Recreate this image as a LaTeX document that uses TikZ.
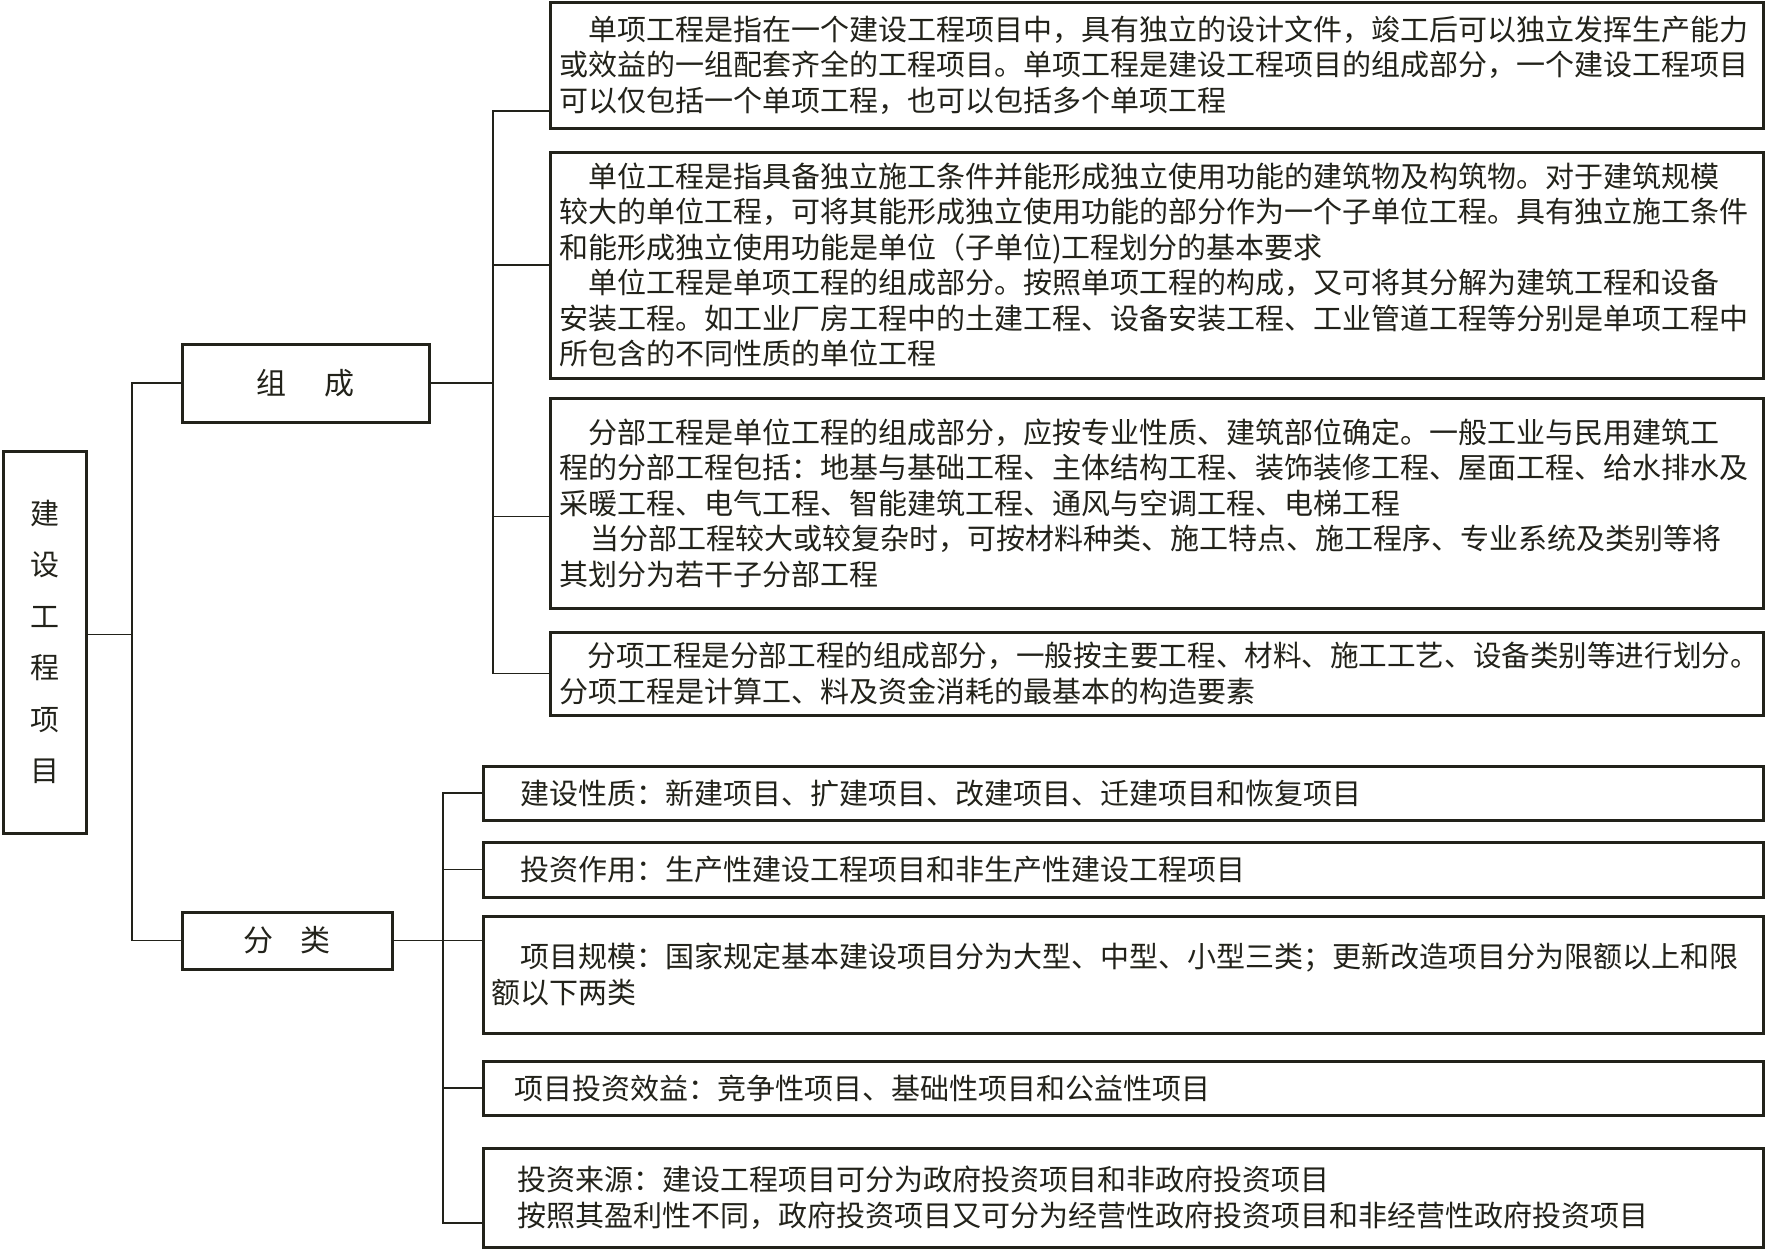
\documentclass[tikz,border=0pt]{standalone}
\usepackage{graphicx}
\usepackage{fontspec}
\setmainfont{Noto Sans CJK SC}
\usetikzlibrary{calc}
\definecolor{ink}{HTML}{22221A}
\begin{document}
\begin{tikzpicture}[x=1pt,y=-1pt,
  box/.style={draw=ink, line width=3pt, inner sep=0pt, text=ink},
  tbox/.style={box, align=left, font=\fontsize{29}{35.5}\selectfont},
  lbox/.style={tbox, minimum width=1213pt, text width=1195pt},
  rbox/.style={tbox, minimum width=1280pt, text width=1264pt},
  conn/.style={draw=ink, line width=1.3pt}]
\useasboundingbox (0,0) rectangle (1766,1250);
\fill[white] (0,0) rectangle (1766,1250);

% root and second level
\node[box, minimum width=83pt, minimum height=382pt, align=center,
      font=\fontsize{29}{51.5}\selectfont] (root) at (44.5,642) {建\\设\\工\\程\\项\\目};
\node[box, minimum width=247pt, minimum height=78pt,
      font=\fontsize{30}{36}\selectfont] (zc) at (305.5,383) {组\hspace{1.25em}成};
\node[box, minimum width=210pt, minimum height=57pt,
      font=\fontsize{30}{36}\selectfont] (fl) at (287,940.5) {分\hspace{0.9em}类};

% composition boxes
\node[lbox, minimum height=126pt] (b1) at (1156.5,65)
 {\hspace*{1em}单项工程是指在一个建设工程项目中，具有独立的设计文件，竣工后可以独立发挥生产能力\\
  或效益的一组配套齐全的工程项目。单项工程是建设工程项目的组成部分，一个建设工程项目\\
  可以仅包括一个单项工程，也可以包括多个单项工程};
\node[lbox, minimum height=226pt] (b2) at (1156.5,265)
 {\hspace*{1em}单位工程是指具备独立施工条件并能形成独立使用功能的建筑物及构筑物。对于建筑规模\\
  较大的单位工程，可将其能形成独立使用功能的部分作为一个子单位工程。具有独立施工条件\\
  和能形成独立使用功能是单位（子单位)工程划分的基本要求\\
  \hspace*{1em}单位工程是单项工程的组成部分。按照单项工程的构成，又可将其分解为建筑工程和设备\\
  安装工程。如工业厂房工程中的土建工程、设备安装工程、工业管道工程等分别是单项工程中\\
  所包含的不同性质的单位工程};
\node[lbox, minimum height=210pt] (b3) at (1156.5,503)
 {\hspace*{1em}分部工程是单位工程的组成部分，应按专业性质、建筑部位确定。一般工业与民用建筑工\\
  程的分部工程包括：地基与基础工程、主体结构工程、装饰装修工程、屋面工程、给水排水及\\
  采暖工程、电气工程、智能建筑工程、通风与空调工程、电梯工程\\
  \hspace*{1.1em}当分部工程较大或较复杂时，可按材料种类、施工特点、施工程序、专业系统及类别等将\\
  其划分为若干子分部工程};
\node[lbox, minimum height=83pt] (b4) at (1156.5,673.5)
 {\scalebox{0.985}[1]{\hspace*{1em}分项工程是分部工程的组成部分，一般按主要工程、材料、施工工艺、设备类别等进行划分。}\\
  分项工程是计算工、料及资金消耗的最基本的构造要素};

% classification boxes
\node[rbox, minimum height=54pt] (b5) at (1123,793)
 {\hspace*{1em}建设性质：新建项目、扩建项目、改建项目、迁建项目和恢复项目};
\node[rbox, minimum height=55pt] (b6) at (1123,869.5)
 {\hspace*{1em}投资作用：生产性建设工程项目和非生产性建设工程项目};
\node[rbox, minimum height=117pt] (b7) at (1123,974.5)
 {\hspace*{1em}项目规模：国家规定基本建设项目分为大型、中型、小型三类；更新改造项目分为限额以上和限\\
  额以下两类};
\node[rbox, minimum height=54pt] (b8) at (1123,1088)
 {\hspace*{0.8em}项目投资效益：竞争性项目、基础性项目和公益性项目};
\node[rbox, minimum height=99pt] (b9) at (1123,1197.5)
 {\hspace*{0.9em}投资来源：建设工程项目可分为政府投资项目和非政府投资项目\\
  \hspace*{0.9em}按照其盈利性不同，政府投资项目又可分为经营性政府投资项目和非经营性政府投资项目};

% connectors
\coordinate (j1) at (132,0);
\coordinate (j2) at (493,0);
\coordinate (j3) at (443,0);
\coordinate (rootc) at ($(root.north east)!0.48!(root.south east)$);
\coordinate (p1) at ($(b1.north west)!0.857!(b1.south west)$);
\coordinate (p3) at ($(b3.north west)!0.562!(b3.south west)$);
\coordinate (p9) at ($(b9.north west)!0.75!(b9.south west)$);

\draw[conn] (rootc) -- (rootc -| j1);
\draw[conn] (zc.west) -- (zc.west -| j1) -- (fl.west -| j1) -- (fl.west);
\draw[conn] (zc.east) -- (zc.east -| j2);
\draw[conn] (p1) -- (p1 -| j2) -- (b4.west -| j2) -- (b4.west);
\draw[conn] (b2.west) -- (b2.west -| j2);
\draw[conn] (p3) -- (p3 -| j2);
\draw[conn] (b5.west) -- (b5.west -| j3) -- (p9 -| j3) -- (p9);
\draw[conn] (fl.east) -- (b7.west |- fl.east);
\draw[conn] (b6.west) -- (b6.west -| j3);
\draw[conn] (b8.west) -- (b8.west -| j3);
\end{tikzpicture}
\end{document}
